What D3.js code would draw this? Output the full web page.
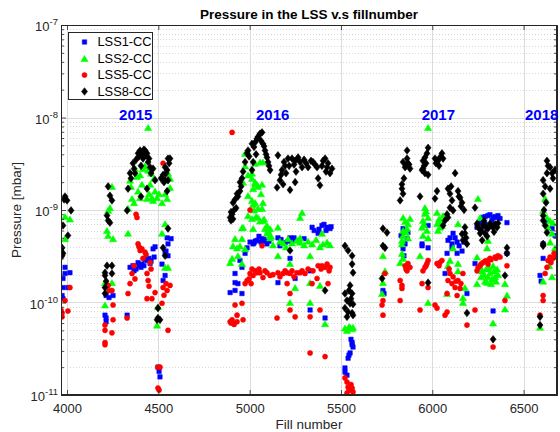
<!DOCTYPE html>
<html>
<head>
<meta charset="utf-8">
<script src="https://cdn.jsdelivr.net/npm/d3@7"></script>
<style>
  html, body { margin: 0; padding: 0; background: #fff; }
  svg { display: block; font-family: "Liberation Sans", Arial, Helvetica, sans-serif; }
</style>
</head>
<body>
<svg id="chart" width="560" height="432"></svg>
<script>
// ---- data: [fill number, pressure in mbar] ----
const seriesNames = ["LSS1-CC", "LSS2-CC", "LSS5-CC", "LSS8-CC"];

const lss1 = [
  [3989,2.4e-10],[3989,2.06e-10],[4016,2.1e-10],[3978,1.82e-10],[3978,1.45e-10],[4005,1.45e-10],[3973,1.19e-10],[3978,1.1e-10],
  [4214,1.19e-10],[4230,1.13e-10],[4252,1.19e-10],[4208,7.3e-11],[4214,6.8e-11],[4214,6.2e-11],
  [4345,2.4e-10],[4361,2.5e-10],[4378,2.3e-10],[4394,2.5e-10],[4410,2.6e-10],[4438,2.85e-10],[4455,2.64e-10],[4471,3.8e-10],
  [4537,3.4e-10],[4553,3.2e-10],[4553,4.3e-10],[4537,1.96e-10],[4526,1.73e-10],[4329,7.3e-11],[4498,2.0e-11],[4509,1.57e-11],
  [4504,1.8e-11],[4570,4.9e-10],[4367,2.2e-10],[4389,2.7e-10],[4405,2.4e-10],[4421,2.5e-10],[4427,2.9e-10],[4449,3.0e-10],
  [4460,2.8e-10],[4477,3.1e-10],[4482,4.0e-10],[4520,2.6e-10],[4548,5.0e-10],[4542,3.6e-10],
  [5040,4.7e-10],[5068,4.9e-10],[5095,4.3e-10],[5155,5.0e-10],[5221,5.0e-10],[5342,6.5e-10],[5396,6.8e-10],[5424,6.5e-10],
  [5440,6.3e-10],[5375,5.6e-10],[4986,3.9e-10],[5019,4.3e-10],[5002,4.5e-10],[5030,4.6e-10],[5051,5.2e-10],[5079,4.8e-10],
  [5106,4.6e-10],[5172,4.8e-10],[5188,4.4e-10],[5210,4.6e-10],[5243,5.0e-10],[5270,4.7e-10],[5298,4.9e-10],[5353,6.0e-10],
  [5380,6.2e-10],[5407,7.0e-10],[5418,6.0e-10],[5446,6.6e-10],[5024,4.4e-10],[5062,4.5e-10],[5084,4.6e-10],[5166,4.1e-10],
  [5194,4.4e-10],[5232,4.7e-10],
  [4975,3.4e-10],[4947,2.85e-10],[4958,2.4e-10],[4920,2.06e-10],[4920,1.64e-10],[4936,1.6e-10],[4893,1.28e-10],[4920,1.35e-10],
  [4958,1.25e-10],[5155,1.64e-10],[5221,3.0e-10],[5249,1.82e-10],[5331,2.2e-10],[5331,8.3e-11],[5413,6.8e-11],
  [5561,3.7e-11],[5566,3.3e-11],[5550,2.85e-11],[5539,2.5e-11],[5522,1.96e-11],[5522,1.77e-11],[5533,1.64e-11],[5555,4.0e-11],
  [5561,3.5e-11],[5544,2.7e-11],
  [5840,6.3e-10],[5851,4.3e-10],[5977,6.8e-10],[5944,4.3e-10],[5977,3.9e-10],[6097,5.0e-10],[6125,5.0e-10],[6136,4.5e-10],
  [6108,4.3e-10],[6278,8.3e-10],[6305,8.7e-10],[6333,8.3e-10],[6355,8.3e-10],[6371,8.1e-10],[6327,7.7e-10],[6409,7.3e-10],
  [6245,6.5e-10],[5944,4.1e-10],[5840,3.8e-10],[5730,1.35e-10],[5736,1.25e-10],[6081,3.4e-10],[6070,2.06e-10],[6136,3.4e-10],
  [6108,3.9e-10],[6190,1.25e-10],[6234,2.64e-10],[6333,8.1e-11],[6409,3.4e-10],[6086,4.7e-10],[6114,5.6e-10],[6147,4.1e-10],
  [6163,3.6e-10],[6174,4.5e-10],[6262,7.3e-10],[6289,8.5e-10],[6316,8.9e-10],[6344,8.5e-10],[6360,8.7e-10],[6289,7.0e-10],
  [6267,6.0e-10],[5829,5.3e-10],[5862,4.9e-10],[5845,3.2e-10],[5867,5.7e-10],
  [6628,7.7e-10],[6656,6.3e-10],[6607,4.3e-10],[6672,5.3e-10],[6590,1.96e-10],[6607,3.0e-10],[6596,1.7e-10]
];

const lss2 = [
  [3989,8.5e-10],[4016,8.0e-10],[3989,4.9e-10],[3970,3.7e-10],
  [4246,1.8e-9],[4235,1.06e-9],[4225,9.9e-10],[4219,6.0e-10],[4225,5.3e-10],[4252,4.9e-10],[4208,1.64e-10],[4246,1.64e-10],[4208,9.4e-11],
  [4444,7.8e-9],[4345,2.1e-9],[4350,1.8e-9],[4372,2.8e-9],[4400,2.4e-9],[4416,2.8e-9],[4444,2.7e-9],[4455,1.9e-9],[4465,1.36e-9],
  [4471,1.27e-9],[4493,1.36e-9],[4438,1.33e-9],[4400,1.36e-9],[4356,1.33e-9],[4334,1.04e-9],[4537,2.1e-9],[4537,1.5e-9],
  [4548,1.33e-9],[4564,1.75e-9],[4564,2.2e-9],[4334,5.6e-10],[4537,7.1e-10],[4520,5.6e-10],[4537,2.4e-10],[4553,2.4e-10],
  [4498,9.0e-11],[4493,5.7e-11],[4383,2.3e-9],[4427,3.0e-9],[4460,2.5e-9],[4476,2.2e-9],[4389,1.6e-9],[4410,1.9e-9],
  [4482,1.6e-9],[4504,1.5e-9],[4367,1.2e-9],[4553,2.5e-9],[4520,1.2e-9],[4449,1.5e-9],
  [4975,3.0e-9],[4991,2.4e-9],[5013,2.2e-9],[5030,2.0e-9],[5040,1.9e-9],[5019,1.7e-9],[5068,1.9e-9],[5057,3.3e-9],[5013,1.27e-9],
  [5030,1.2e-9],[5046,1.04e-9],[5068,1.04e-9],[4991,8.7e-10],[5013,8.1e-10],[5073,7.7e-10],[5095,6.8e-10],[5101,6.0e-10],
  [4964,6.5e-10],[4958,4.9e-10],[4931,3.9e-10],[4975,3.8e-10],[5155,6.5e-10],[5287,9.4e-10],[5276,8.3e-10],[5095,5.6e-10],
  [5112,5.0e-10],[5210,4.9e-10],[5259,4.7e-10],[5342,4.3e-10],[5396,5.6e-10],[5402,4.3e-10],[5024,1.0e-9],[5062,1.5e-9],
  [5035,8.5e-10],[5079,8.0e-10],[5084,6.3e-10],[5117,5.2e-10],[5128,4.2e-10],[5166,4.6e-10],[5183,4.4e-10],[5199,4.0e-10],
  [5232,4.4e-10],[5276,4.5e-10],[5298,4.2e-10],[5320,4.6e-10],[5364,4.8e-10],[5385,4.0e-10],[5424,4.5e-10],[5440,4.2e-10],
  [4975,4.1e-9],[5030,3.2e-9],[5073,3.3e-9],[5013,2.5e-9],[4964,2.0e-9],[5030,1.95e-9],[5046,1.8e-9],[4991,1.43e-9],
  [5019,1.15e-9],[5073,1.2e-9],[5046,8.3e-10],[5057,7.6e-10],[5112,6.3e-10],[4958,6.4e-10],[5019,6.3e-10],[5112,5.3e-10],
  [4920,4.9e-10],[5276,5.0e-10],
  [4909,4.1e-10],[4904,3.0e-10],[4893,2.7e-10],[4936,3.2e-10],[4947,4.1e-10],[4958,2.64e-10],[5155,3.2e-10],[5221,2.64e-10],
  [5221,1.0e-10],[5249,1.45e-10],[5331,3.2e-10],[5331,1.64e-10],[5331,1.0e-10],[5385,1.53e-10],[5413,5.9e-11],
  [5522,5.3e-11],[5550,5.4e-11],[5566,5.4e-11],[5533,5.0e-11],[5561,5.2e-11],[5544,5.5e-11],
  [5977,7.8e-9],[5840,8.3e-10],[5878,8.1e-10],[5867,7.1e-10],[5862,6.3e-10],[5840,6.0e-10],[5840,5.3e-10],[5834,4.7e-10],
  [5867,5.0e-10],[5960,1.06e-9],[5960,9.2e-10],[5949,7.7e-10],[5944,6.5e-10],[5977,8.3e-10],[5971,6.0e-10],[5949,5.3e-10],
  [5977,5.0e-10],[6026,9.4e-10],[6026,7.1e-10],[6042,6.5e-10],[6059,8.7e-10],[6053,6.8e-10],[6141,7.1e-10],[6114,3.9e-10],
  [6250,1.33e-9],[6262,8.3e-10],[6305,4.7e-10],[6300,3.9e-10],[5851,7.5e-10],[5856,5.8e-10],[5955,7.0e-10],[5966,9.8e-10],
  [6031,6.0e-10],[6048,7.5e-10],[6037,8.0e-10],
  [5730,3.2e-10],[5741,2.2e-10],[5730,1.64e-10],[5725,1.25e-10],[5834,4.3e-10],[5834,3.4e-10],[5840,3.0e-10],[5824,2.7e-10],
  [5933,3.2e-10],[5977,1.0e-10],[6097,2.85e-10],[6086,2.5e-10],[6081,1.25e-10],[6141,2.64e-10],[6141,2.2e-10],[6179,1.45e-10],
  [6168,1.13e-10],[6168,1.0e-10],[6245,3.1e-10],[6245,1.6e-10],[6262,2.4e-10],[6273,2.2e-10],[6284,2.0e-10],[6295,2.3e-10],
  [6305,1.9e-10],[6316,2.1e-10],[6327,1.8e-10],[6338,2.2e-10],[6349,1.7e-10],[6360,2.0e-10],[6267,1.9e-10],[6289,1.7e-10],
  [6311,2.4e-10],[6333,2.5e-10],[6300,1.65e-10],[6322,1.6e-10],[6344,1.9e-10],[6355,2.3e-10],[6333,6.0e-11],[6398,1.6e-10],
  [6398,8.5e-11],[6409,1.2e-10],
  [6618,1.33e-9],[6607,9.9e-10],[6628,8.3e-10],[6645,7.7e-10],[6661,7.3e-10],[6634,6.5e-10],[6656,5.6e-10],[6645,4.5e-10],
  [6672,3.9e-10],[6590,5.4e-11],[6607,1.7e-10],[6656,1.9e-10],[6640,2.5e-10],[6667,3.2e-10]
];

const lss5 = [
  [4016,1.45e-10],[3989,1.05e-10],[3967,8.3e-11],[3973,7.7e-11],[3973,7.0e-11],[4005,8.1e-11],
  [4225,1.53e-10],[4246,1.35e-10],[4252,9.4e-11],[4252,6.5e-11],[4208,5.7e-11],[4208,5.0e-11],[4208,3.7e-11],[4208,3.5e-11],
  [4246,4.7e-11],[4230,1.35e-10],
  [4526,3.2e-9],[4378,9.0e-10],[4383,8.3e-10],[4389,4.3e-10],[4400,3.65e-10],[4427,3.5e-10],[4455,2.7e-10],[4356,2.06e-10],
  [4345,1.6e-10],[4334,1.25e-10],[4438,2.06e-10],[4444,1.73e-10],[4482,1.28e-10],[4438,1.1e-10],[4465,1.1e-10],[4526,1.45e-10],
  [4548,1.35e-10],[4564,1.53e-10],[4553,5.0e-11],[4329,6.8e-11],[4520,9.8e-11],[4498,2.0e-11],[4509,2.0e-11],[4504,1.13e-11],
  [4498,1.19e-11],[4394,4.0e-10],[4410,3.8e-10],[4416,3.0e-10],[4433,3.3e-10],[4460,2.3e-10],[4367,2.5e-10],[4372,1.8e-10],
  [4449,1.5e-10],[4542,1.6e-10],[4531,1.2e-10],
  [4904,6.9e-9],[5002,1.0e-9],
  [5002,2.06e-10],[5019,1.96e-10],[5040,2.1e-10],[5057,2.1e-10],[5073,1.86e-10],[5095,2.1e-10],[5112,1.96e-10],[4986,1.73e-10],
  [4975,1.6e-10],[5155,2.1e-10],[5183,2.06e-10],[5205,2.1e-10],[5221,2.06e-10],[5259,2.1e-10],[5276,2.1e-10],[5303,2.06e-10],
  [5347,2.2e-10],[5375,2.5e-10],[5396,2.5e-10],[5413,2.4e-10],[5440,2.4e-10],[5068,4.1e-10],[5013,2.3e-10],[5030,2.2e-10],
  [5051,2.3e-10],[5084,2.2e-10],[5128,2.0e-10],[5166,1.9e-10],[5194,2.2e-10],[5232,2.2e-10],[5243,1.9e-10],[5287,2.2e-10],
  [5320,2.3e-10],[5391,2.3e-10],[5424,2.6e-10],[5435,2.2e-10],[4997,1.8e-10],[5008,1.6e-10],
  [4920,9.4e-11],[4958,9.8e-11],[4904,6.5e-11],[4909,6.0e-11],[4931,6.2e-11],[4964,6.5e-11],[4931,7.3e-11],[4893,6.2e-11],
  [5150,6.8e-11],[5221,8.3e-11],[5249,7.0e-11],[5221,1.25e-10],[5205,1.6e-10],[5331,7.0e-11],[5342,1.6e-10],[5369,1.82e-10],
  [5385,8.3e-11],[5429,1.6e-10],[5331,2.85e-11],[5413,2.6e-11],[4898,6.0e-11],[4915,5.8e-11],
  [5522,1.53e-11],[5533,1.38e-11],[5539,1.22e-11],[5561,1.19e-11],[5566,1.08e-11],[5533,1.05e-11],[5550,1.25e-11],[5544,1.12e-11],
  [5555,1.3e-11],
  [5741,2.06e-10],[5730,1.05e-10],[5725,9.4e-11],[5730,7.3e-11],[5824,1.05e-10],[5824,1.73e-10],[5834,1.53e-10],[5834,1.42e-10],
  [5851,2.5e-10],[5867,2.64e-10],[5878,2.4e-10],[5862,2.2e-10],[5933,8.3e-11],[5944,1.6e-10],[5949,2.2e-10],[5960,2.4e-10],
  [5971,2.64e-10],[5977,2.85e-10],[5977,1.45e-10],[6026,2.64e-10],[6042,2.7e-10],[6053,2.85e-10],[6015,9.4e-11],[6026,8.7e-11],
  [6081,7.9e-11],[6070,7.3e-11],[6081,1.25e-10],[6086,1.73e-10],[6097,2.06e-10],[6108,1.6e-10],[6125,1.45e-10],[6141,1.73e-10],
  [6152,1.42e-10],[6136,1.19e-10],[6168,2.06e-10],[6190,5.7e-11],[6234,8.3e-11],[6245,2.2e-10],[6262,2.5e-10],[6278,2.7e-10],
  [6300,2.85e-10],[6316,3.0e-10],[6344,3.1e-10],[6360,3.2e-10],[6333,3.3e-11],[6409,2.5e-10],[6398,1.05e-10],
  [5856,2.3e-10],[5966,2.5e-10],[6037,2.5e-10],[6092,2.3e-10],[6114,1.9e-10],[6130,1.7e-10],[6157,1.6e-10],[6267,2.6e-10],
  [6289,2.8e-10],[6322,2.9e-10],[6349,3.0e-10],[6371,3.1e-10],[6251,2.4e-10],[6305,2.6e-10],
  [6590,7.3e-11],[6607,1.19e-10],[6618,2.06e-10],[6628,2.4e-10],[6634,2.85e-10],[6645,3.1e-10],[6661,3.0e-10],[6678,3.2e-10],
  [6607,1.05e-10],[6650,2.7e-10],[6667,3.4e-10]
];

const lss8 = [
  [3989,1.4e-9],[4000,1.27e-9],[4022,9.9e-10],[3978,6.8e-10],[4005,5.3e-10],[3973,3.9e-10],[3978,3.4e-10],[3973,3.2e-10],[3984,1.3e-9],
  [4225,1.8e-9],[4235,1.43e-9],[4246,1.27e-9],[4219,8.7e-10],[4225,7.7e-10],[4235,7.3e-10],[4219,2.5e-10],[4246,2.5e-10],
  [4208,2.1e-10],[4208,1.96e-10],[4208,1.45e-10],[4208,1.25e-10],[4246,2.06e-10],[4214,1.7e-10],
  [4329,9.9e-10],[4334,1.7e-9],[4345,2.5e-9],[4361,3.2e-9],[4389,4.1e-9],[4400,4.4e-9],[4427,4.4e-9],[4438,4.1e-9],[4444,3.3e-9],
  [4455,2.9e-9],[4471,2.8e-9],[4482,2.1e-9],[4438,1.7e-9],[4537,2.9e-9],[4553,3.6e-9],[4564,3.6e-9],[4526,2.4e-9],[4537,2.1e-9],
  [4553,2.1e-9],[4553,6.3e-10],[4548,2.7e-9],[4526,3.9e-10],[4537,3.2e-10],[4498,8.7e-11],[4498,6.8e-11],[4509,6.5e-11],
  [4493,6.5e-11],[4350,2.2e-9],[4367,2.8e-9],[4378,3.5e-9],[4394,3.8e-9],[4410,4.0e-9],[4416,3.6e-9],[4421,4.5e-9],[4433,3.9e-9],
  [4449,3.6e-9],[4460,2.5e-9],[4372,2.5e-9],[4405,3.0e-9],[4542,2.5e-9],[4559,3.2e-9],[4531,2.0e-9],[4405,1.4e-9],[4548,1.6e-9],
  [4515,2.2e-9],
  [4904,9.0e-10],[4893,8.3e-10],[4898,9.5e-10],[4898,7.7e-10],[4909,8.0e-10],[4909,1.2e-9],[4931,1.5e-9],[4947,1.6e-9],
  [4947,2.0e-9],[4958,2.2e-9],[4964,2.6e-9],
  [4975,3.3e-9],[4986,4.1e-9],[4991,4.4e-9],[5013,5.2e-9],[5030,5.4e-9],[5040,5.9e-9],[5057,6.7e-9],[5068,6.9e-9],[5073,5.2e-9],
  [5084,4.4e-9],[5095,3.7e-9],[5101,3.3e-9],[5112,2.7e-9],[5019,3.3e-9],[5013,2.7e-9],[5155,3.9e-9],[5150,1.75e-9],[5166,2.1e-9],
  [5177,2.7e-9],[5194,3.0e-9],[5210,3.6e-9],[5232,3.6e-9],[5249,3.4e-9],[5265,3.7e-9],[5276,3.3e-9],[5287,2.9e-9],[5249,2.0e-9],
  [5221,1.65e-9],[5320,2.9e-9],[5347,3.3e-9],[5369,2.9e-9],[5396,3.0e-9],[5413,3.6e-9],[5424,2.9e-9],[5440,2.5e-9],[5451,2.8e-9],
  [5385,1.85e-9],[5375,2.2e-9],[5024,4.8e-9],[5046,6.2e-9],[5062,5.6e-9],[5079,4.9e-9],[5106,3.0e-9],[5090,4.0e-9],[5035,4.0e-9],
  [4997,3.8e-9],[5188,3.3e-9],[5199,2.5e-9],[5216,3.0e-9],[5243,3.1e-9],[5254,2.6e-9],[5298,3.5e-9],[5309,3.2e-9],[5336,3.4e-9],
  [5358,3.1e-9],[5402,3.4e-9],[5429,3.2e-9],[5418,2.6e-9],[5172,2.4e-9],[5183,1.9e-9],[4953,1.8e-9],[4920,1.3e-9],[4936,1.4e-9],
  [4926,1.05e-9],[4915,1.0e-9],[5221,3.65e-10],[5413,1.35e-10],
  [5522,4.1e-10],[5539,3.65e-10],[5561,3.2e-10],[5566,2.1e-10],[5550,1.53e-10],[5522,1.25e-10],[5561,1.25e-10],[5533,1.05e-10],
  [5550,9.8e-11],[5566,9.6e-11],[5522,8.7e-11],[5539,7.9e-11],[5561,7.7e-11],[5566,7.3e-11],[5533,7.0e-11],[5555,1.1e-10],
  [5544,1.35e-10],[5561,2.6e-10],
  [5730,6.3e-10],[5752,5.7e-10],[5741,3.9e-10],[5730,4.1e-10],[5725,1.82e-10],[5834,1.9e-9],[5834,1.7e-9],[5840,1.5e-9],
  [5824,1.27e-9],[5840,3.3e-9],[5862,3.6e-9],[5867,3.2e-9],[5851,2.9e-9],[5862,4.4e-9],[5878,2.8e-9],[5933,1.4e-9],[5949,3.4e-9],
  [5960,3.7e-9],[5971,4.1e-9],[5977,4.7e-9],[5949,2.8e-9],[5944,2.7e-9],[5960,2.5e-9],[5977,2.4e-9],[6015,3.6e-9],[6031,3.4e-9],
  [6053,4.1e-9],[6059,3.6e-9],[6026,1.6e-9],[6015,1.33e-9],[6125,2.5e-9],[6086,1.7e-9],[6097,1.5e-9],[6108,1.27e-9],[6097,1.06e-9],
  [6114,9.9e-10],[6086,8.3e-10],[6070,7.7e-10],[6059,6.8e-10],[6141,1.6e-9],[6152,1.36e-9],[6163,1.2e-9],[6179,6.5e-10],
  [6179,5.6e-10],[6168,4.7e-10],[6190,4.3e-10],[6234,1.06e-9],[6245,7.1e-10],[6262,5.6e-10],[6278,6.8e-10],[6289,5.6e-10],
  [6305,6.3e-10],[6316,7.1e-10],[6333,6.5e-10],[6355,6.5e-10],[6273,4.7e-10],[6409,3.9e-10],[6409,3.4e-10],[6398,1.96e-10],
  [5977,1.64e-10],[6190,7.7e-11],[6333,4.0e-11],[5845,2.2e-9],[5856,3.0e-9],[5873,3.1e-9],[5955,3.0e-9],[5966,3.2e-9],
  [6020,3.2e-9],[6042,3.7e-9],[6037,3.0e-9],[6103,1.8e-9],[6146,1.4e-9],[6157,1.1e-9],[6174,1.0e-9],[6081,9.0e-10],[6267,6.0e-10],
  [6295,6.5e-10],[6322,6.8e-10],[6344,7.0e-10],[6300,5.2e-10],[6338,5.8e-10],[6360,7.2e-10],[6251,6.5e-10],[6284,7.6e-10],
  [6185,5.0e-10],[6163,5.5e-10],
  [6628,3.4e-9],[6645,2.9e-9],[6628,2.5e-9],[6656,2.5e-9],[6672,2.7e-9],[6607,2.1e-9],[6618,1.8e-9],[6607,1.5e-9],[6645,1.7e-9],
  [6607,8.7e-10],[6607,7.7e-10],[6618,6.8e-10],[6628,5.7e-10],[6607,4.3e-10],[6607,4.1e-10],[6590,7.0e-11],[6590,5.7e-11],
  [6634,3.0e-9],[6661,2.2e-9],[6623,1.2e-9],[6612,1.0e-9]
];

const xTicks = [4000, 4500, 5000, 5500, 6000, 6500];
const yExponents = [-11, -10, -9, -8, -7];
const yearLabels = ["2015", "2016", "2017", "2018"];
const yearFills = [4285, 5035, 5942, 6508];
const yearLevel = 1.08e-8;

// ---- layout ----
const svg = d3.select("#chart");
const pL = 61, pR = 557, pT = 25, pB = 395;
const axisColor = "#262626";

const x = d3.scaleLinear().domain([3967, 6683]).range([pL, pR]);
const y = d3.scaleLog().domain([1e-11, 1e-7]).range([pB, pT]);

svg.append("rect").attr("width", 560).attr("height", 432).attr("fill", "#fff");

// grid
const grid = svg.append("g");
const minorVals = [];
yExponents.slice(0, -1).forEach(e => {
  for (let m = 2; m <= 9; m++) minorVals.push(m * Math.pow(10, e));
});
grid.selectAll("line.minor").data(minorVals).join("line")
  .attr("x1", pL).attr("x2", pR)
  .attr("y1", d => Math.round(y(d)) + 0.5).attr("y2", d => Math.round(y(d)) + 0.5)
  .attr("stroke", "#cfcfcf").attr("stroke-width", 0.8).attr("stroke-dasharray", "1,2");
grid.selectAll("line.ymaj").data(yExponents).join("line")
  .attr("x1", pL).attr("x2", pR)
  .attr("y1", d => Math.round(y(Math.pow(10, d))) + 0.5).attr("y2", d => Math.round(y(Math.pow(10, d))) + 0.5)
  .attr("stroke", "#dcdcdc").attr("stroke-width", 1);
grid.selectAll("line.xmaj").data(xTicks).join("line")
  .attr("y1", pT).attr("y2", pB)
  .attr("x1", d => Math.round(x(d)) + 0.5).attr("x2", d => Math.round(x(d)) + 0.5)
  .attr("stroke", "#dcdcdc").attr("stroke-width", 1);

// marker shapes
const sq = { draw(c, s) { const h = Math.sqrt(s) / 2; c.rect(-h, -h, 2 * h, 2 * h); } };
const tri = { draw(c, s) { const w = Math.sqrt(s) * 0.66, h = Math.sqrt(s) * 0.56; c.moveTo(0, -h); c.lineTo(w, h); c.lineTo(-w, h); c.closePath(); } };
const circ = { draw(c, s) { const r = Math.sqrt(s) / 2; c.moveTo(r, 0); c.arc(0, 0, r, 0, 2 * Math.PI); } };
const dia = { draw(c, s) { const w = Math.sqrt(s) * 0.55, h = Math.sqrt(s) * 0.7; c.moveTo(0, -h); c.lineTo(w, 0); c.lineTo(0, h); c.lineTo(-w, 0); c.closePath(); } };

const series = [
  { name: seriesNames[0], data: lss1, color: "#0000ff", type: sq, size: 20 },
  { name: seriesNames[1], data: lss2, color: "#00ff00", type: tri, size: 30 },
  { name: seriesNames[2], data: lss5, color: "#ff0000", type: circ, size: 26 },
  { name: seriesNames[3], data: lss8, color: "#000000", type: dia, size: 30 }
];

svg.append("clipPath").attr("id", "plotclip")
  .append("rect").attr("x", pL).attr("y", pT).attr("width", pR - pL).attr("height", pB - pT);

const pts = svg.append("g").attr("clip-path", "url(#plotclip)");
series.forEach(s => {
  const sym = d3.symbol().type(s.type).size(s.size);
  pts.append("g").selectAll("path").data(s.data).join("path")
    .attr("transform", d => `translate(${x(d[0])},${y(d[1])})`)
    .attr("d", sym)
    .attr("fill", s.color).attr("stroke", s.color).attr("stroke-width", 0.5);
});

// axes (ticks point inward)
const xAxisB = d3.axisBottom(x).tickValues(xTicks).tickSizeInner(-5).tickSizeOuter(0).tickPadding(9).tickFormat(d3.format("d"));
const xAxisT = d3.axisTop(x).tickValues(xTicks).tickSizeInner(-5).tickSizeOuter(0).tickFormat("");
const gxB = svg.append("g").attr("transform", `translate(0,${pB})`).call(xAxisB);
svg.append("g").attr("transform", `translate(0,${pT})`).call(xAxisT);

const yMajor = yExponents.map(e => Math.pow(10, e));
const yAxisL = d3.axisLeft(y).tickValues(yMajor).tickSizeInner(-5).tickSizeOuter(0).tickFormat("");
const yAxisR = d3.axisRight(y).tickValues(yMajor).tickSizeInner(-5).tickSizeOuter(0).tickFormat("");
const yMinL = d3.axisLeft(y).tickValues(minorVals).tickSizeInner(-3).tickSizeOuter(0).tickFormat("");
const yMinR = d3.axisRight(y).tickValues(minorVals).tickSizeInner(-3).tickSizeOuter(0).tickFormat("");
svg.append("g").attr("transform", `translate(${pL},0)`).call(yAxisL);
svg.append("g").attr("transform", `translate(${pR},0)`).call(yAxisR);
svg.append("g").attr("transform", `translate(${pL},0)`).call(yMinL);
svg.append("g").attr("transform", `translate(${pR},0)`).call(yMinR);

svg.selectAll(".domain").attr("stroke", axisColor).attr("stroke-width", 1);
svg.selectAll(".tick line").attr("stroke", axisColor).attr("stroke-width", 0.8);
gxB.selectAll("text").attr("fill", axisColor).attr("font-size", 13)
  .attr("font-family", "'Liberation Sans', Arial, Helvetica, sans-serif");

// box lines
svg.append("rect").attr("x", pL + 0.5).attr("y", pT + 0.5).attr("width", pR - pL - 1).attr("height", pB - pT - 1)
  .attr("fill", "none").attr("stroke", axisColor).attr("stroke-width", 1);

// y tick labels as powers of ten
const yl = svg.append("g").attr("fill", axisColor);
yExponents.forEach(e => {
  const t = yl.append("text").attr("x", 58).attr("y", y(Math.pow(10, e)) + 6).attr("text-anchor", "end");
  t.append("tspan").attr("font-size", 13).text("10");
  t.append("tspan").attr("font-size", 9.5).attr("dy", -6).text(String(e));
});

// axis titles and chart title
svg.append("text").attr("x", (pL + pR) / 2).attr("y", 429).attr("text-anchor", "middle")
  .attr("font-size", 13.5).attr("fill", axisColor).text("Fill number");
svg.append("text").attr("transform", `translate(21,${(pT + pB) / 2}) rotate(-90)`).attr("text-anchor", "middle")
  .attr("font-size", 13.5).attr("fill", axisColor).text("Pressure [mbar]");
svg.append("text").attr("x", (pL + pR) / 2).attr("y", 18.5).attr("text-anchor", "middle")
  .attr("font-size", 13.5).attr("font-weight", "bold").attr("fill", "#000").text("Pressure in the LSS v.s fillnumber");

// year annotations
svg.append("g").selectAll("text").data(yearLabels).join("text")
  .attr("x", (d, i) => x(yearFills[i])).attr("y", y(yearLevel)).attr("dy", "0.35em")
  .attr("font-size", 15).attr("font-weight", "bold").attr("fill", "#0000ff")
  .text(d => d);

// legend
const lg = svg.append("g");
lg.append("rect").attr("x", 68.5).attr("y", 32.5).attr("width", 84).attr("height", 67)
  .attr("fill", "#fff").attr("stroke", axisColor).attr("stroke-width", 1);
const legendRows = [42, 58.5, 75, 91.5];
series.forEach((s, i) => {
  lg.append("path").attr("transform", `translate(84.5,${legendRows[i]})`)
    .attr("d", d3.symbol().type(s.type).size(s.size))
    .attr("fill", s.color).attr("stroke", s.color).attr("stroke-width", 0.5);
  lg.append("text").attr("x", 97.5).attr("y", legendRows[i]).attr("dy", "0.35em")
    .attr("font-size", 12.8).attr("fill", "#000").text(s.name);
});
</script>
</body>
</html>
